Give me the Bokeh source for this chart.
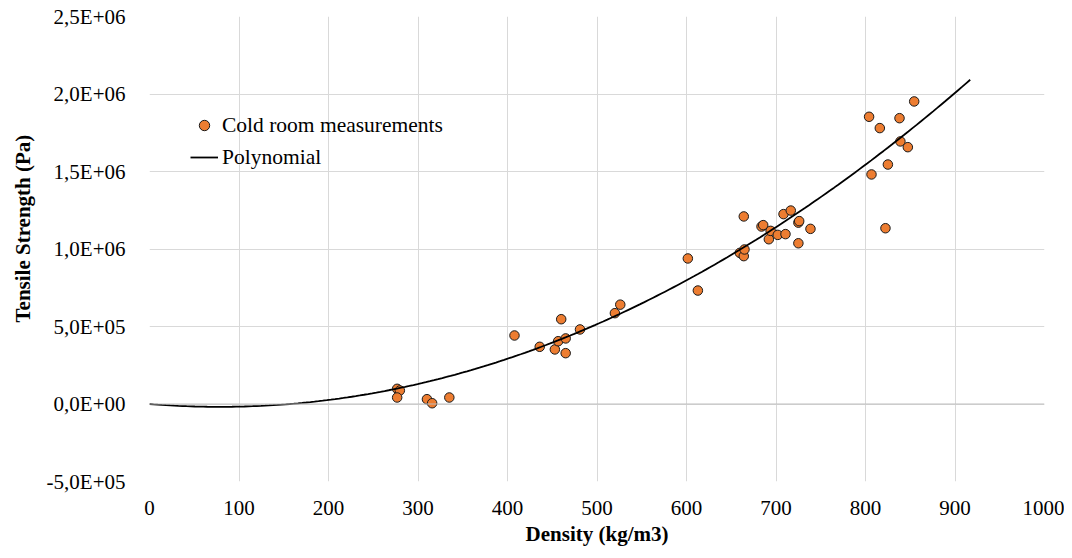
from bokeh.plotting import figure
from bokeh.models import Range1d, FixedTicker, Span, Legend, LegendItem, Title
from bokeh.embed import file_html
from bokeh.resources import INLINE
import numpy as np

# Data
density = [276.7, 279.7, 276.7, 310.0, 315.8, 335.0, 407.8, 436.0, 452.9, 456.6,
           460.0, 465.0, 465.0, 481.0, 520.0, 526.0, 601.5, 612.7, 659.6, 664.0,
           664.0, 664.8, 683.8, 685.7, 692.0, 694.0, 702.0, 708.4, 710.6, 716.5,
           725.0, 725.9, 725.0, 738.5, 804.0, 806.7, 816.0, 822.3, 825.0, 838.0,
           839.0, 847.3, 854.4]
strength = [98e3, 87e3, 42e3, 31e3, 5e3, 42e3, 442e3, 369e3, 352e3, 405e3,
            547e3, 423e3, 328e3, 481e3, 586e3, 641e3, 939e3, 732e3, 975e3, 954e3,
            1210e3, 997e3, 1145e3, 1154e3, 1063e3, 1117e3, 1091e3, 1225e3, 1096e3, 1248e3,
            1170e3, 1180e3, 1037e3, 1130e3, 1853e3, 1481e3, 1780e3, 1134e3, 1545e3, 1844e3,
            1694e3, 1657e3, 1952e3]

poly_coeffs = [3.0, -470.0, 0.0]
poly_x_range = [0.0, 917.0]

x_ticks = [0, 100, 200, 300, 400, 500, 600, 700, 800, 900, 1000]
y_ticks = [-500000, 0, 500000, 1000000, 1500000, 2000000, 2500000]
y_tick_labels = ["-5,0E+05", "0,0E+00", "5,0E+05", "1,0E+06", "1,5E+06", "2,0E+06", "2,5E+06"]

x_title = "Density (kg/m3)"
y_title = "Tensile Strength (Pa)"

FONT = "Liberation Serif"
FS = "21px"

p = figure(width=1064, height=550, output_backend="svg", toolbar_location=None,
           x_range=Range1d(0, 1000), y_range=Range1d(-500000, 2500000),
           min_border_left=149, min_border_right=20, min_border_top=16, min_border_bottom=69)
p.outline_line_color = None
p.background_fill_color = "white"
p.border_fill_color = "white"

for g in (p.xgrid, p.ygrid):
    g.grid_line_color = "#d9d9d9"
    g.grid_line_width = 1
p.xgrid.ticker = FixedTicker(ticks=x_ticks)
p.ygrid.ticker = FixedTicker(ticks=y_ticks)

p.xaxis.ticker = FixedTicker(ticks=x_ticks)
p.yaxis.ticker = FixedTicker(ticks=y_ticks)
p.yaxis.major_label_overrides = {t: l for t, l in zip(y_ticks, y_tick_labels)}

for ax in (p.xaxis, p.yaxis):
    ax.axis_line_color = None
    ax.major_tick_line_color = None
    ax.minor_tick_line_color = None
    ax.major_label_text_font = FONT
    ax.major_label_text_font_size = FS
    ax.major_label_text_color = "black"

p.xaxis.major_label_standoff = 13
p.yaxis.major_label_standoff = 18

xt = Title(text=x_title, align="center", text_font=FONT, text_font_size=FS,
           text_font_style="bold", text_color="black", standoff=5, offset=0)
p.add_layout(xt, "below")

yt = Title(text=y_title, align="left", text_font=FONT, text_font_size=FS,
           text_font_style="bold", text_color="black", standoff=17, offset=159)
p.add_layout(yt, "left")

zero = Span(location=0, dimension="width", line_color="#bfbfbf", line_width=1)
p.add_layout(zero)

xs = np.linspace(poly_x_range[0], poly_x_range[1], 200)
ys = np.polyval(poly_coeffs, xs)

pts = p.scatter(density, strength, size=9.5, fill_color="#ED7D31", line_color="#1a1a1a",
                line_width=1)
ln = p.line(xs, ys, line_color="black", line_width=1.8)

legend = Legend(items=[LegendItem(label="Cold room measurements", renderers=[pts]),
                       LegendItem(label="Polynomial", renderers=[ln])],
                location=(41, 311), padding=0, margin=0, spacing=6,
                glyph_width=28, glyph_height=26, label_height=26, label_standoff=4,
                label_text_font=FONT, label_text_font_size="21.5px", label_text_color="black",
                border_line_color=None, background_fill_alpha=0)
p.add_layout(legend, "center")

open("out.html", "w").write(file_html(p, INLINE))
